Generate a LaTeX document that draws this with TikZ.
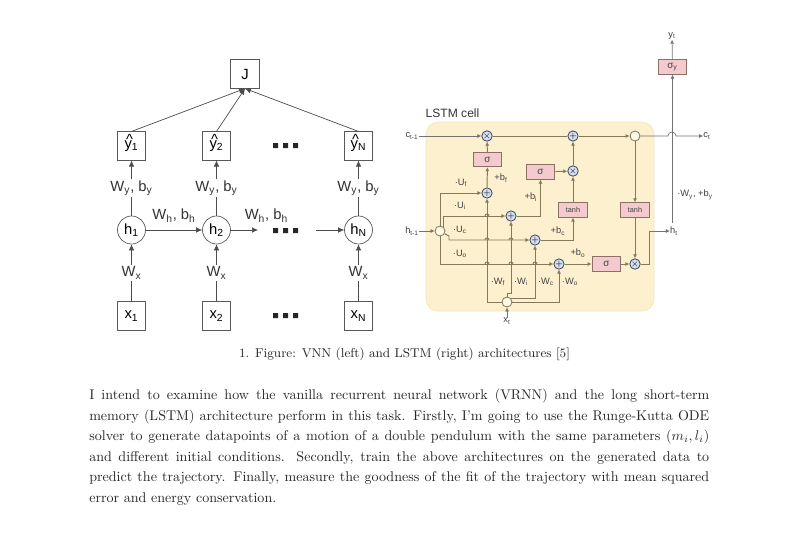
\documentclass[tikz,border=0pt]{standalone}
\usepackage{fontspec}
\usepackage{amsmath}
\usepackage{tikz}
\usetikzlibrary{arrows.meta}
\newfontfamily\labelfont{Liberation Sans}
\definecolor{cellfill}{HTML}{FDF0CE}
\definecolor{cellline}{HTML}{F3E3B8}
\definecolor{gatefill}{HTML}{F3CBCE}
\definecolor{gateline}{HTML}{8E6F66}
\definecolor{wire}{HTML}{85795C}
\definecolor{opfill}{HTML}{D5E1F2}
\definecolor{opline}{HTML}{3F4A5E}
\tikzset{
	boxnode/.style={draw=black!65,line width=0.5pt,minimum size=7.1mm,inner sep=0pt,font=\labelfont\fontsize{10.5}{12}\selectfont},
	hnode/.style={circle,draw=black!65,line width=0.5pt,minimum size=7mm,inner sep=0pt,font=\labelfont\fontsize{10.5}{12}\selectfont},
	flow/.style={-{Latex[length=1.5mm,width=1.4mm]},line width=0.5pt,black!70},
	weight/.style={inner sep=1pt,fill=white,font=\labelfont\fontsize{10.5}{12}\selectfont,text=black!80},
	gatenode/.style={draw=gateline,fill=gatefill,line width=0.6pt,minimum width=7.2mm,minimum height=3.6mm,inner sep=0pt,font=\labelfont\fontsize{5.2}{6}\selectfont,text=black!75},
	sigmanode/.style={gatenode,font=\labelfont\fontsize{7}{8}\selectfont},
	opnode/.style={circle,draw=opline,fill=opfill,line width=0.6pt,minimum size=2.3mm,inner sep=0pt,font=\fontsize{6}{6}\selectfont},
	splitnode/.style={circle,draw=wire,fill=cellfill!50!white,line width=0.6pt,minimum size=2.5mm,inner sep=0pt},
	wireto/.style={-{Latex[length=1mm,width=1mm]},line width=0.7pt,wire},
	wireplain/.style={line width=0.7pt,wire},
	outto/.style={-{Latex[length=1mm,width=1mm]},line width=0.5pt,black!55},
	tag/.style={inner sep=0pt,font=\labelfont\fontsize{6.6}{8}\selectfont,text=black!75}
}
\newcommand{\yhatlabel}[1]{\rlap{\smash{\raisebox{.28em}{\hspace{.1em}\^{}}}}y\textsubscript{#1}}
\begin{document}
\begin{tikzpicture}[x=0.25mm,y=-0.25mm]
	\useasboundingbox (0,0) rectangle (800,533);
	% left network
	\node[boxnode] (Jbox) at (245,74) {J};
	\node[boxnode] (yhat1) at (131.5,146) {\yhatlabel{1}};
	\node[boxnode] (yhat2) at (216.5,146) {\yhatlabel{2}};
	\node[boxnode] (yhatN) at (358.5,146) {\yhatlabel{N}};
	\node[hnode] (h1) at (131.5,230) {h\textsubscript{1}};
	\node[hnode] (h2) at (216.5,230) {h\textsubscript{2}};
	\node[hnode] (hN) at (358.5,230) {h\textsubscript{N}};
	\node[boxnode] (x1) at (131.5,316) {x\textsubscript{1}};
	\node[boxnode] (x2) at (216.5,316) {x\textsubscript{2}};
	\node[boxnode] (xN) at (358.5,316) {x\textsubscript{N}};
	\coordinate (h2out) at (258,230);
	\coordinate (hNin) at (316,230);
	\draw[flow] (yhat1.north) -- (Jbox.south);
	\draw[flow] (yhat2.north) -- (Jbox.south);
	\draw[flow] (yhatN.north) -- (Jbox.south);
	\draw[flow] (h1) -- node[weight]{W\textsubscript{y}, b\textsubscript{y}} (yhat1);
	\draw[flow] (h2) -- node[weight]{W\textsubscript{y}, b\textsubscript{y}} (yhat2);
	\draw[flow] (hN) -- node[weight]{W\textsubscript{y}, b\textsubscript{y}} (yhatN);
	\draw[flow] (x1) -- node[weight]{W\textsubscript{x}} (h1);
	\draw[flow] (x2) -- node[weight]{W\textsubscript{x}} (h2);
	\draw[flow] (xN) -- node[weight]{W\textsubscript{x}} (hN);
	\draw[flow] (h1) -- node[weight,fill=none,yshift=0.36cm]{W\textsubscript{h}, b\textsubscript{h}} (h2);
	\draw[flow] (h2) -- node[weight,fill=none,xshift=0.55cm,yshift=0.36cm]{W\textsubscript{h}, b\textsubscript{h}} (h2out);
	\draw[flow] (hNin) -- (hN);
	\fill[black!85] (273,143) rectangle (278,148) (283,143) rectangle (288,148) (293,143) rectangle (298,148);
	\fill[black!85] (273,228) rectangle (278,233) (283,228) rectangle (288,233) (293,228) rectangle (298,233);
	\fill[black!85] (273,313) rectangle (278,318) (283,313) rectangle (288,318) (293,313) rectangle (298,318);
	% lstm cell
	\draw[cellline,fill=cellfill,rounded corners=3mm] (426,122) rectangle (654,311);
	\node[inner sep=0pt,font=\labelfont\fontsize{8.6}{10}\selectfont,text=black!80] (celltitle) at (452.5,113) {LSTM cell};
	\node[sigmanode] (sigf) at (487.5,159.5) {σ};
	\node[sigmanode] (sigi) at (540.5,172) {σ};
	\node[gatenode] (tanhc) at (573,210) {tanh};
	\node[gatenode] (tanhh) at (635,210) {tanh};
	\node[sigmanode] (sigo) at (606.5,264) {σ};
	\node[sigmanode] (sigy) at (672.5,67) {σ\textsubscript{y}};
	\node[opnode] (multf) at (487,136) {$\times$};
	\node[opnode] (plusc) at (573,136) {$+$};
	\node[opnode] (multi) at (573,171) {$\times$};
	\node[opnode] (multo) at (635,264) {$\times$};
	\node[opnode] (addf) at (487,193) {$+$};
	\node[opnode] (addi) at (511,216) {$+$};
	\node[opnode] (addc) at (535,240) {$+$};
	\node[opnode] (addo) at (559,264) {$+$};
	\node[splitnode] (csplit) at (635,136) {};
	\node[splitnode] (hsplit) at (440,231) {};
	\node[splitnode] (xsplit) at (507,302) {};
	\node[tag] (cprev) at (412,136) {c\textsubscript{t-1}};
	\node[tag] (hprev) at (412,231) {h\textsubscript{t-1}};
	\node[tag] (xt) at (507,321) {x\textsubscript{t}};
	\node[tag] (ct) at (707,136) {c\textsubscript{t}};
	\node[tag] (ht) at (674,231) {h\textsubscript{t}};
	\node[tag] (yt) at (672,36) {y\textsubscript{t}};
	\coordinate (hbend) at (449,236);
	\coordinate (xbend) at (507,293);
	\coordinate (xbendi) at (511,293);
	\coordinate (hopin) at (668,136);
	\coordinate (hturn) at (649,231);
	\coordinate (htstart) at (654,231);
	\coordinate (yfoot) at (672.5,223);
	% wires
	\draw[outto] (cprev) -- (multf);
	\draw[wireplain] (multf) -- (plusc);
	\draw[wireto] (plusc) -- (csplit);
	\draw[outto] (csplit) -- (hopin) arc (180:360:4) -- (ct);
	\draw[outto] (yfoot) -- (sigy);
	\draw[outto] (sigy) -- (yt);
	\draw[outto] (hprev) -- (hsplit);
	\draw[outto] (xt) -- (xsplit);
	\draw[wireto] (hsplit.north) |- (addf);
	\draw[wireto] (hsplit.45) |- (addi);
	\draw[wireto] (hsplit.-30) -- (hbend) |- (addc);
	\draw[wireto] (hsplit.south) |- (addo);
	\draw[wireto] (xsplit.west) -| (addf);
	\draw[wireto] (xsplit.north) -- (xbend) -- (xbendi) -- (addi);
	\draw[wireto] (xsplit.45) -| (addc);
	\draw[wireto] (xsplit.east) -| (addo);
	\draw[wireto] (addf) -- (sigf);
	\draw[wireto] (sigf) -- (multf);
	\draw[wireto] (addi) -| (sigi);
	\draw[wireto] (sigi) -- (multi);
	\draw[wireto] (addc) -| (tanhc);
	\draw[wireto] (tanhc) -- (multi);
	\draw[wireto] (multi) -- (plusc);
	\draw[wireto] (csplit) -- (tanhh);
	\draw[wireto] (tanhh) -- (multo);
	\draw[wireto] (addo) -- (sigo);
	\draw[wireto] (sigo) -- (multo);
	\draw[wireplain] (multo) -| (hturn);
	\draw[wireplain] (hturn) -- (htstart);
	\draw[outto] (htstart) -- (ht);
	% hops
	\draw[wireplain] (485,216) arc (180:360:2);
	\draw[wireplain] (485,240) arc (180:360:2);
	\draw[wireplain] (485,264) arc (180:360:2);
	\draw[wireplain] (509,240) arc (180:360:2);
	\draw[wireplain] (509,264) arc (180:360:2);
	\draw[wireplain] (533,264) arc (180:360:2);
	% lstm labels
	\node[tag] (labuf) at (461,183) {·U\textsubscript{f}};
	\node[tag] (labui) at (460,206) {·U\textsubscript{i}};
	\node[tag] (labuc) at (460,230) {·U\textsubscript{c}};
	\node[tag] (labuo) at (460,254) {·U\textsubscript{o}};
	\node[tag] (labbf) at (501,178) {+b\textsubscript{f}};
	\node[tag] (labbi) at (531,197) {+b\textsubscript{i}};
	\node[tag] (labbc) at (558,231) {+b\textsubscript{c}};
	\node[tag] (labbo) at (578,253) {+b\textsubscript{o}};
	\node[tag] (labwf) at (498,282) {·W\textsubscript{f}};
	\node[tag] (labwi) at (521,282) {·W\textsubscript{i}};
	\node[tag] (labwc) at (546,282) {·W\textsubscript{c}};
	\node[tag] (labwo) at (570,282) {·W\textsubscript{o}};
	\node[tag] (labwy) at (695,195) {·W\textsubscript{y}, +b\textsubscript{y}};
	% text
	\node[inner sep=0pt,font=\fontsize{9.1}{12}\selectfont,text=black!85] (caption) at (404.5,354) {1. Figure: VNN (left) and LSTM (right) architectures [5]};
	\node[anchor=north west,inner sep=0pt,text width=155mm,align=justify,font=\fontsize{10}{14.55}\selectfont,text=black!85] (bodytext) at (89,389) {I intend to examine how the vanilla recurrent neural network (VRNN) and the long short-term\linebreak memory (LSTM) architecture perform in this task. Firstly, I'm going to use the Runge-Kutta ODE\linebreak solver to generate datapoints of a motion of a double pendulum with the same parameters $(m_i,l_i)$\linebreak and different initial conditions. Secondly, train the above architectures on the generated data to\linebreak predict the trajectory. Finally, measure the goodness of the fit of the trajectory with mean squared\linebreak error and energy conservation.};
\end{tikzpicture}
\end{document}
